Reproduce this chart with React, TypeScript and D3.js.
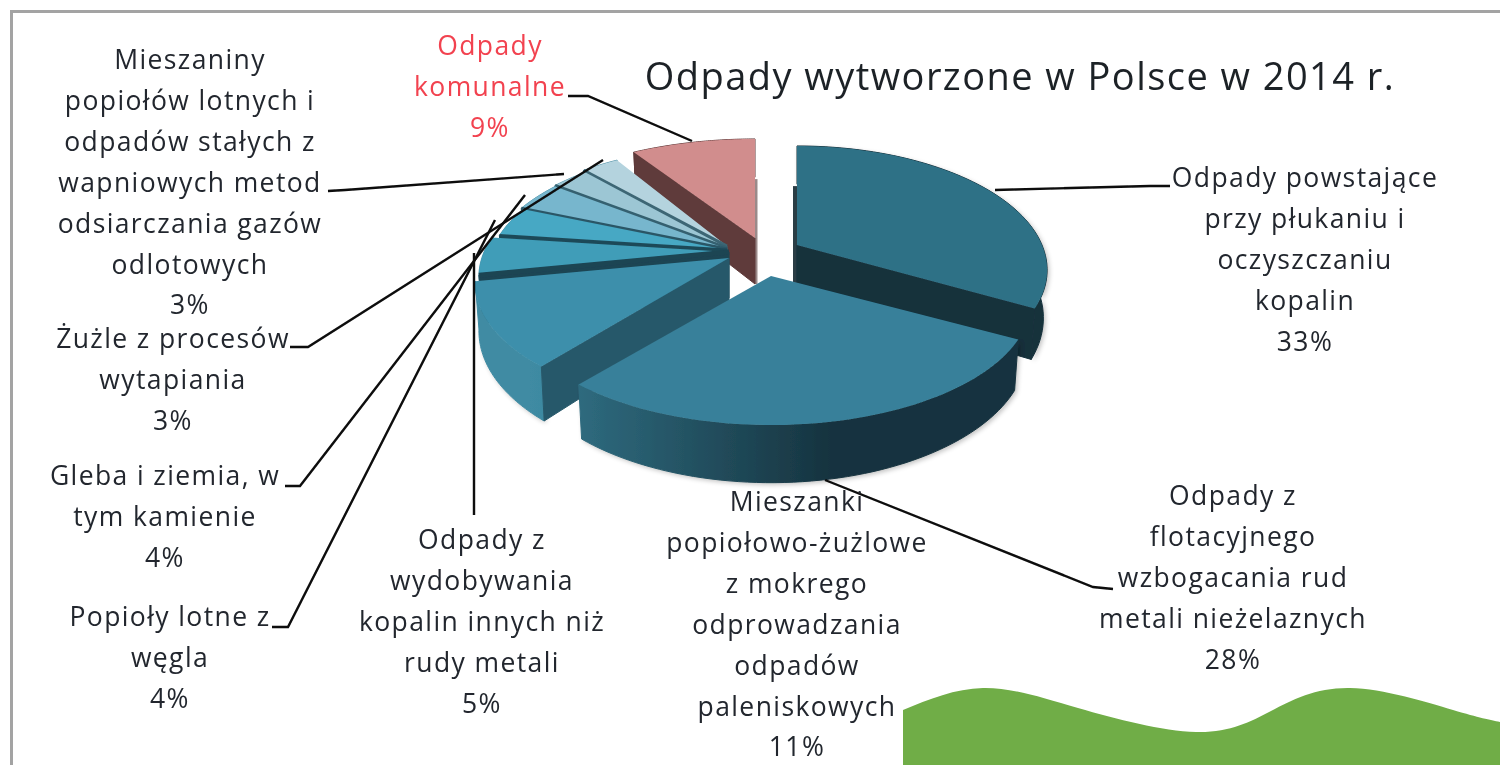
import React, { useEffect } from "react";
import * as d3 from "d3";

const names = [
  ["Odpady powstające", "przy płukaniu i", "oczyszczaniu", "kopalin"],
  ["Odpady z", "flotacyjnego", "wzbogacania rud", "metali nieżelaznych"],
  ["Mieszanki", "popiołowo-żużlowe", "z mokrego", "odprowadzania", "odpadów", "paleniskowych"],
  ["Odpady z", "wydobywania", "kopalin innych niż", "rudy metali"],
  ["Popioły lotne z", "węgla"],
  ["Gleba i ziemia, w", "tym kamienie"],
  ["Żużle z procesów", "wytapiania"],
  ["Mieszaniny", "popiołów lotnych i", "odpadów stałych z", "wapniowych metod", "odsiarczania gazów", "odlotowych"],
  ["Odpady", "komunalne"],
];
const values = [33, 28, 11, 5, 4, 4, 3, 3, 9];
const topColors = ["#2e7186", "#38809a", "#3c8fab", "#3f9db8", "#46a8c4", "#77b6cd", "#9cc6d4", "#b4d3de", "#d18d8d"];
const sideColors = ["#14303b", "#16333f", "#28596b", "#1c4453", "#1f4a59", "#2a5666", "#34606f", "#3c6674", "#5e3a3a"];
const wallLeft = ["#14303b", "#2f6c80", "#3f8ba3", "#3f8ba3", "#3f8ba3", "#3f8ba3", "#3f8ba3", "#3f8ba3", "#5e3a3a"];
const wallRight = ["#14303b", "#16333f", "#2a6d83", "#2a6d83", "#2a6d83", "#2a6d83", "#2a6d83", "#2a6d83", "#5e3a3a"];
const apexX = [797, 771, 729, 729, 727, 727, 727, 727, 755];
const apexY = [245, 276, 258, 252, 250, 249, 248, 246, 238];
const widthFactor = [1, 1.04, 1.015, 1, 0.96, 0.97, 0.97, 0.98, 1.08];
const drawOrder = [8, 7, 6, 5, 4, 3, 2, 0, 1];
const labelX = [1305, 1233, 797, 482, 170, 165, 173, 190, 490];
const labelY = [178, 496, 502, 540, 617, 476, 339, 60, 46];
const labelColors = ["#22272e", "#22272e", "#22272e", "#22272e", "#22272e", "#22272e", "#22272e", "#22272e", "#f2424f"];

const leaderPaths: [number, number][][] = [
  [[1170, 186], [1150, 186], [995, 190]],
  [[1113, 589], [1093, 587], [825, 480]],
  [[474, 515], [474, 253]],
  [[272, 627], [288, 627], [495, 220]],
  [[285, 486], [300, 486], [525, 195]],
  [[290, 347], [308, 347], [603, 160]],
  [[328, 191], [345, 190], [564, 174]],
  [[568, 96], [588, 96], [692, 141]],
];
const hillX = [903, 983, 1078, 1196, 1271, 1350, 1453, 1500];
const hillY = [710, 688, 708, 732, 711, 688, 710, 722];

const RX = 245;
const RY = 119;
const PERSPECTIVE = 0.2016;
const DEPTH = 46;
const LINE_STEP = 40.9;

const pie = d3.pie<number>().sort(null).startAngle(0).endAngle(2 * Math.PI);
const arcs = pie(values);

function project(i: number, angle: number, r: number, down: boolean): [number, number] {
  const X = r * Math.sin(angle);
  const Y = -r * Math.cos(angle);
  const s = 1 / (1 - PERSPECTIVE * Y);
  const x = RX * widthFactor[i] * X * s * (down ? 0.985 : 1);
  const y = RY * Y * s + (down ? DEPTH * s : 0);
  return [apexX[i] + x, apexY[i] + y];
}

const line = d3.line<[number, number]>();
const curve = d3.line<[number, number]>().curve(d3.curveNatural);

function arcPoints(i: number, down: boolean): [number, number][] {
  const { startAngle, endAngle } = arcs[i];
  const n = 60;
  return d3.range(n + 1).map((k) => project(i, startAngle + ((endAngle - startAngle) * k) / n, 1, down));
}

function topPath(i: number) {
  return line([project(i, 0, 0, false), ...arcPoints(i, false)]) + "Z";
}
function outerWall(i: number) {
  return line([...arcPoints(i, false), ...arcPoints(i, true).reverse()]) + "Z";
}
function edgeWall(i: number, angle: number) {
  return (
    line([
      project(i, 0, 0, false),
      project(i, angle, 1, false),
      project(i, angle, 1, true),
      project(i, 0, 0, true),
    ]) + "Z"
  );
}
function spine(i: number, angle: number) {
  return line([project(i, angle, 0.55, false), project(i, 0, 0, true)]) as string;
}
function startEdge(i: number) {
  return line([project(i, 0, 0, false), project(i, arcs[i].startAngle, 1, false)]) as string;
}

export default function App() {
  useEffect(() => {
    document.body.style.margin = "0";
    document.body.style.overflow = "hidden";
  }, []);
  const hillPts = hillX.map((x, i) => [x, hillY[i]] as [number, number]);
  return (
    <svg
      width={1500}
      height={765}
      viewBox="0 0 1500 765"
      style={{ position: "absolute", left: 0, top: 0, background: "#fff" }}
      fontFamily="'Open Sans', 'Noto Sans', sans-serif"
    >
      <defs>
        <filter id="soft" x="-5%" y="-5%" width="110%" height="110%">
          <feGaussianBlur stdDeviation="0.7" />
        </filter>
        <filter id="softer" x="-5%" y="-5%" width="110%" height="110%">
          <feGaussianBlur stdDeviation="0.45" />
        </filter>
        <filter id="shadow" x="-10%" y="-10%" width="120%" height="120%">
          <feGaussianBlur stdDeviation="2.5" />
        </filter>
        {values.map((_, i) => (
          <linearGradient key={i} id={`wall${i}`} gradientUnits="userSpaceOnUse" x1={apexX[i] - 200} x2={apexX[i] + 60} y1={0} y2={0}>
            <stop offset="0" stopColor={wallLeft[i]} />
            <stop offset="1" stopColor={wallRight[i]} />
          </linearGradient>
        ))}
      </defs>
      <rect width={1500} height={765} fill="#fff" />
      <path d="M11.5,765V11.5H1500" fill="none" stroke="#a3a3a3" strokeWidth={3} filter="url(#soft)" />

      <g filter="url(#soft)">
        {drawOrder.map((i) => {
          const a = arcs[i];
          const right = a.endAngle < Math.PI;
          return (
            <g key={i}>
              {i < 3 && <path d={outerWall(i)} fill="#000" opacity={0.25} filter="url(#shadow)" transform="translate(2,2)" />}
              {i === 0 && <path d={spine(i, a.startAngle)} stroke="#2b3d45" strokeWidth={4} fill="none" transform="translate(-2,0)" />}
              {i === 8 && <path d={spine(i, a.endAngle)} stroke="#9a8a8a" strokeWidth={3} fill="none" transform="translate(1,0)" />}
              <path d={outerWall(i)} fill={`url(#wall${i})`} stroke={`url(#wall${i})`} strokeWidth={1} />
              {i !== 1 && (
                <path d={edgeWall(i, right ? a.endAngle : a.startAngle)} fill={sideColors[i]} stroke={sideColors[i]} strokeWidth={1} />
              )}
              <path d={topPath(i)} fill={topColors[i]} />
              {i >= 3 && i <= 7 && (
                <path d={startEdge(i)} fill="none" stroke={sideColors[i]} strokeWidth={i === 3 ? 5 : 3} />
              )}
            </g>
          );
        })}
      </g>

      <g fill="none" stroke="#0a0a0a" strokeWidth={2.4} filter="url(#softer)">
        {leaderPaths.map((p, i) => (
          <path key={i} d={line(p) as string} />
        ))}
      </g>

      <path d={`${curve(hillPts)}L1500,765L903,765Z`} fill="#70ad47" />

      <g filter="url(#softer)">
        <text x={1020} y={90} textAnchor="middle" fontSize={38} letterSpacing={1.45} fill="#1c2026">
          Odpady wytworzone w Polsce w 2014 r.
        </text>
        <g fontSize={26.5} letterSpacing={1.4} textAnchor="middle">
          {names.map((lines, i) => (
            <text key={i} fill={labelColors[i]}>
              {[...lines, `${values[i]}%`].map((t, k) => (
                <tspan key={k} x={labelX[i]} y={labelY[i] + 9 + k * LINE_STEP}>
                  {t}
                </tspan>
              ))}
            </text>
          ))}
        </g>
      </g>
    </svg>
  );
}
